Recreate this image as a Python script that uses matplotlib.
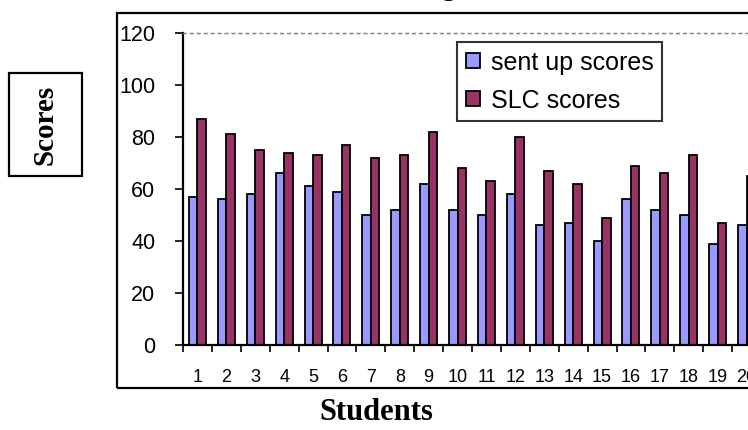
import numpy as np
import matplotlib
matplotlib.use("Agg")
import matplotlib.pyplot as plt
from matplotlib.patches import Rectangle

# scores per student
students = [str(i) for i in range(1, 21)]
sent_up = [57, 56, 58, 66, 61, 59, 50, 52, 62, 52, 50, 58, 46, 47, 40, 56, 52, 50, 39, 46]
slc = [87, 81, 75, 74, 73, 77, 72, 73, 82, 68, 63, 80, 67, 62, 49, 69, 66, 73, 47, 65]
y_ticks = [0, 20, 40, 60, 80, 100, 120]

W, H = 748, 430
fig = plt.figure(figsize=(W / 100, H / 100), dpi=100)

# plot area (runs off the right edge)
ax_l, ax_r, ax_t, ax_b = 183, 761, 33, 345
ax = fig.add_axes([ax_l / W, (H - ax_b) / H, (ax_r - ax_l) / W, (ax_b - ax_t) / H])

x = np.arange(1, len(students) + 1)
bw = 0.294
ax.bar(x - bw / 2, sent_up, bw, color="#9999FF", edgecolor="black", linewidth=1.3,
       label="sent up scores")
ax.bar(x + bw / 2, slc, bw, color="#993366", edgecolor="black", linewidth=1.3,
       label="SLC scores")

ax.set_xlim(0.5, len(students) + 0.5)
ax.set_ylim(0, 120)

# ticks at category boundaries, labels in the middle
ax.set_xticks(np.arange(0.5, len(students) + 1, 1))
ax.set_xticklabels([])
ax.set_xticks(x, minor=True)
ax.set_xticklabels(students, minor=True, fontsize=13, family="Liberation Sans")
ax.tick_params(axis="x", which="major", length=5, width=1.2, direction="out")
ax.tick_params(axis="x", which="minor", length=0, pad=17)

ax.set_yticks(y_ticks)
ax.set_yticklabels([str(v) for v in y_ticks], fontsize=15.5, family="Liberation Sans")
ax.tick_params(axis="y", length=6, width=1.2, direction="out", pad=14)

for s in ["left", "bottom"]:
    ax.spines[s].set_linewidth(1.6)
    ax.spines[s].set_color("black")
ax.spines["top"].set_linestyle((0, (2, 3)))
ax.spines["top"].set_color("#808080")
ax.spines["top"].set_linewidth(1.0)
ax.spines["right"].set_visible(False)

leg = ax.legend(loc="upper left", bbox_to_anchor=((457 - ax_l) / (ax_r - ax_l), 1 - (42 - ax_t) / (ax_b - ax_t)),
                prop={"family": "Liberation Sans", "size": 18}, frameon=True, fancybox=False,
                borderpad=0.35, labelspacing=0.55, handlelength=0.55, handleheight=0.55,
                handletextpad=0.45, borderaxespad=0)
leg.get_frame().set_edgecolor("black")
leg.get_frame().set_linewidth(1.5)

# outer chart border
fig.patches.append(Rectangle((117 / W, (H - 388) / H), (820 - 117) / W, (388 - 13) / H,
                             transform=fig.transFigure, fill=False, edgecolor="black",
                             linewidth=1.6, clip_on=False))

# y label in its own box
fig.patches.append(Rectangle((9 / W, (H - 176) / H), (82 - 9) / W, (176 - 73) / H,
                             transform=fig.transFigure, fill=False, edgecolor="black",
                             linewidth=1.6))
fig.text(45.5 / W, 1 - 124.5 / H, "Scores", rotation=90, ha="center", va="center",
         family="Liberation Serif", fontweight="bold", fontsize=21)

fig.text(376 / W, 1 - 412 / H, "Students", ha="center", va="center",
         family="Liberation Serif", fontweight="bold", fontsize=22)

# chart title sits above the visible area, only the descender shows
fig.text(394 / W, 1 + 5 / H, "Score Range", ha="center", va="baseline",
         family="Liberation Serif", fontweight="bold", fontsize=20)

fig.savefig("out.png", dpi=100)
